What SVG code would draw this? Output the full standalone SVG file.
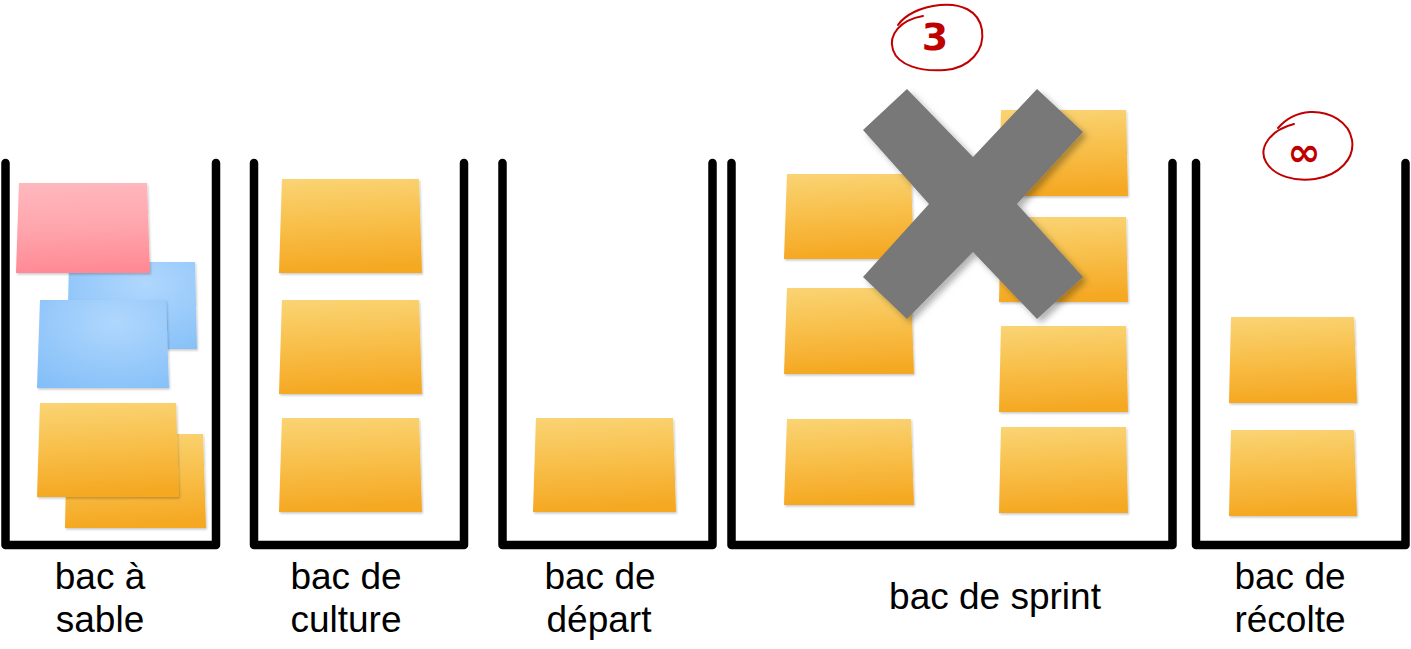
<svg xmlns="http://www.w3.org/2000/svg" width="1411" height="649" viewBox="0 0 1411 649">
<defs>
  <linearGradient id="gOrange" x1="0" y1="0" x2="0.08" y2="1">
    <stop offset="0" stop-color="#fad474"/>
    <stop offset="0.5" stop-color="#f8bf4a"/>
    <stop offset="1" stop-color="#f5a822"/>
  </linearGradient>
  <linearGradient id="gPink" x1="0" y1="0" x2="0.05" y2="1">
    <stop offset="0" stop-color="#ffb8be"/>
    <stop offset="0.5" stop-color="#ffa6ad"/>
    <stop offset="1" stop-color="#ff8a94"/>
  </linearGradient>
  <radialGradient id="gBlue" cx="0.6" cy="0.25" r="0.9">
    <stop offset="0" stop-color="#b0d7fd"/>
    <stop offset="1" stop-color="#84bff8"/>
  </radialGradient>
  <filter id="sh" x="-10%" y="-10%" width="130%" height="130%">
    <feDropShadow dx="1" dy="1.5" stdDeviation="1.2" flood-color="#000" flood-opacity="0.22"/>
  </filter>
  <filter id="shX" x="-10%" y="-10%" width="130%" height="130%">
    <feDropShadow dx="4" dy="4" stdDeviation="3" flood-color="#000" flood-opacity="0.3"/>
  </filter>
</defs>
<style>
  .bin { fill: none; stroke: #000; stroke-width: 8.5; stroke-linecap: round; stroke-linejoin: round; }
  .o { fill: url(#gOrange); filter: url(#sh); }
  .p { fill: url(#gPink); filter: url(#sh); }
  .b { fill: url(#gBlue); filter: url(#sh); }
  .lbl { font-family: "Liberation Sans", Arial, sans-serif; font-size: 37px; fill: #000; text-anchor: middle; }
  .mark { fill: none; stroke: #c00000; stroke-width: 2; stroke-linecap: round; }
  .num { font-weight: bold; fill: #c00000; text-anchor: middle; }
</style>
<rect width="1411" height="649" fill="#fff"/>

<g id="bac-a-sable">
  <path class="bin" d="M5.5,163 V545 H216 V163"/>
  <polygon class="b" points="69,262 195,262 197,349 67,349"/>
  <polygon class="p" points="19,183 147,183 150,273 16,273"/>
  <polygon class="b" points="40,300 166,300 169,388 37,388"/>
  <polygon class="o" points="67,434 203,434 206,528 65,528"/>
  <polygon class="o" points="40,403 176,403 179,497 37,497"/>
  <text class="lbl" x="100" y="589">bac à</text>
  <text class="lbl" x="100" y="632">sable</text>
</g>

<g id="bac-de-culture">
  <path class="bin" d="M254,163 V545 H464 V163"/>
  <polygon class="o" points="282,179 419,179 422,273 279,273"/>
  <polygon class="o" points="282,300 419,300 422,394 279,394"/>
  <polygon class="o" points="282,418 419,418 422,512 279,512"/>
  <text class="lbl" x="346" y="589">bac de</text>
  <text class="lbl" x="346" y="632">culture</text>
</g>

<g id="bac-de-depart">
  <path class="bin" d="M502.5,163 V545 H712.5 V163"/>
  <polygon class="o" points="536,418 673,418 676,512 533,512"/>
  <text class="lbl" x="600" y="589">bac de</text>
  <text class="lbl" x="599" y="632">départ</text>
</g>

<g id="bac-de-sprint">
  <path class="bin" d="M731.5,163 V545 H1172.5 V163"/>
  <polygon class="o" points="787,174 911,174 914,259 784,259"/>
  <polygon class="o" points="787,288 911,288 914,374 784,374"/>
  <polygon class="o" points="787,419 911,419 914,505 784,505"/>
  <polygon class="o" points="1001,110 1126,110 1128,196 999,196"/>
  <polygon class="o" points="1001,217 1126,217 1128,302 999,302"/>
  <polygon class="o" points="1001,326 1126,326 1128,412 999,412"/>
  <polygon class="o" points="1001,427 1126,427 1128,513 999,513"/>
  <text class="lbl" x="995" y="609">bac de sprint</text>
</g>

<g id="limite-sprint">
  <polygon points="907,89 973,157 1037,89 1083,132 1017,204 1083,277 1037,319 973,252 907,319 863,277 929,204 863,130" fill="#787878" filter="url(#shX)"/>
  <path class="mark" d="M923,16 C900,20 888,35 893,50 C898,65 920,72 945,70 C970,68 985,50 982,30 C979,10 960,3 940,5 C920,7 905,15 898,25"/>
  <text class="num" x="935" y="50" font-size="38" font-family="'DejaVu Sans', sans-serif">3</text>
</g>

<g id="bac-de-recolte">
  <path class="bin" d="M1196,163 V545 H1405.5 V163"/>
  <polygon class="o" points="1231,317 1354,317 1357,403 1229,403"/>
  <polygon class="o" points="1231,430 1354,430 1357,516 1229,516"/>
  <path class="mark" d="M1294,124 C1270,130 1258,148 1266,162 C1274,176 1295,182 1315,179 C1340,175 1355,158 1352,140 C1349,122 1330,111 1310,112 C1295,113 1285,120 1278,128"/>
  <text class="num" x="1304" y="166" font-size="40" font-family="'DejaVu Sans', sans-serif">∞</text>
  <text class="lbl" x="1290" y="589">bac de</text>
  <text class="lbl" x="1290" y="632">récolte</text>
</g>

<g id="connectors"></g>
</svg>
